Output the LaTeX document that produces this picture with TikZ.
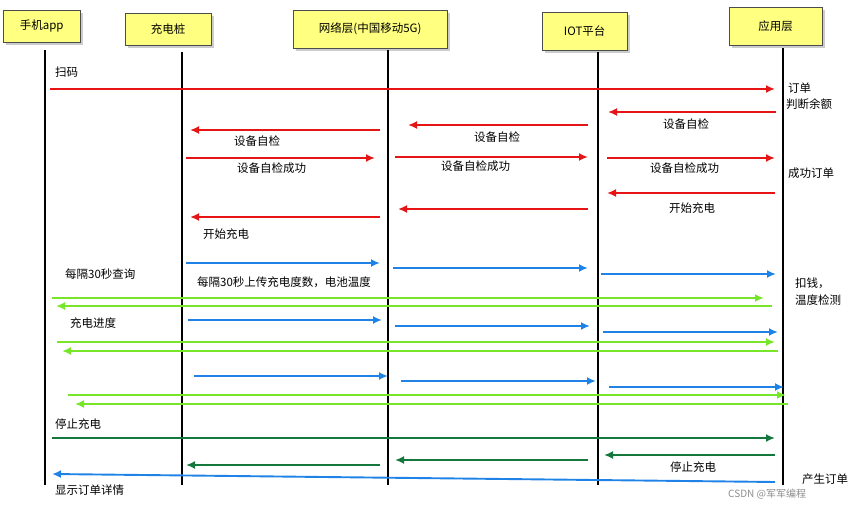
\documentclass[tikz,border=0pt]{standalone}
\usepackage{fontspec}
\setmainfont{Noto Sans CJK SC}
\usetikzlibrary{arrows.meta,shadows}
\definecolor{boxyellow}{RGB}{255,255,128}
\definecolor{msgred}{RGB}{230,20,20}
\definecolor{msgblue}{RGB}{30,130,230}
\definecolor{msggreen}{RGB}{120,230,40}
\definecolor{msgdark}{RGB}{20,120,60}
\tikzset{
  actor/.style={draw=black!70, fill=boxyellow, drop shadow={opacity=0.4}, font=\fontsize{11.5}{13}\selectfont, inner sep=4pt, anchor=north west, minimum height=32pt},
  life/.style={line width=1.3pt},
  msg/.style={line width=1.9pt, -{Latex[length=9pt,width=8pt]}},
  lbl/.style={font=\fontsize{11.5}{13}\selectfont, anchor=west, inner sep=0pt}
}
\begin{document}
\begin{tikzpicture}[x=1pt,y=-1pt]
      \useasboundingbox (0,0) rectangle (868,513);
      % participants
      \node[actor, minimum width=77pt] (app) at (3,10) {手机app};
      \node[actor, minimum width=86pt] (pile) at (125,13) {充电桩};
      \node[actor, minimum width=154pt, minimum height=38pt] (net) at (293,10) {网络层(中国移动5G)};
      \node[actor, minimum width=85pt, minimum height=38pt] (iot) at (542,12) {IOT平台};
      \node[actor, minimum width=93pt, minimum height=38pt] (srv) at (729,7) {应用层};
      \draw[life] (45,50) -- (45,485);
      \draw[life] (182,52) -- (182,485);
      \draw[life] (388,50) -- (388,485);
      \draw[life] (598,52) -- (598,485);
      \draw[life] (783,48) -- (783,485);

      % scan and self check
      \draw[msg, msgred] (50,89) -- (775,89);
      \draw[msg, msgred] (776,112) -- (608,112);
      \draw[msg, msgred] (588,125) -- (408,125);
      \draw[msg, msgred] (380,130) -- (190,130);
      \draw[msg, msgred] (186,158) -- (375,158);
      \draw[msg, msgred] (395,157) -- (588,157);
      \draw[msg, msgred] (607,158) -- (775,158);
      \draw[msg, msgred] (775,193) -- (607,193);
      \draw[msg, msgred] (588,209) -- (398,209);
      \draw[msg, msgred] (380,217) -- (190,217);

      % periodic upload
      \foreach \dx/\ya/\yb/\yc in {0/263/268/274, 2/320/326/332, 8/376/381/387}{
        \draw[msg, msgblue] (186+\dx,\ya) -- (380+\dx,\ya);
        \draw[msg, msgblue] (393+\dx,\yb) -- (588+\dx,\yb);
        \draw[msg, msgblue] (601+\dx,\yc) -- (776+\dx,\yc);
      }
      \draw[msg, msggreen] (52,298) -- (764,298);
      \draw[msg, msggreen] (772,306) -- (56,306);
      \draw[msg, msggreen] (57,342) -- (775,342);
      \draw[msg, msggreen] (778,351) -- (62,351);
      \draw[msg, msggreen] (68,395) -- (786,395);
      \draw[msg, msggreen] (788,404) -- (75,404);

      % stop
      \draw[msg, msgdark] (52,438) -- (775,438);
      \draw[msg, msgdark] (775,455) -- (604,455);
      \draw[msg, msgdark] (588,460) -- (395,460);
      \draw[msg, msgdark] (380,465) -- (186,465);
      \draw[msg, msgblue] (775,482) -- (52,474);

      % labels
      \node[lbl] at (55,72) {扫码};
      \node[lbl] at (788,88) {订单};
      \node[lbl] at (786,104) {判断余额};
      \node[lbl] at (663,124) {设备自检};
      \node[lbl] at (474,137) {设备自检};
      \node[lbl] at (234,141) {设备自检};
      \node[lbl] at (237,168) {设备自检成功};
      \node[lbl] at (441,166) {设备自检成功};
      \node[lbl] at (650,168) {设备自检成功};
      \node[lbl] at (788,173) {成功订单};
      \node[lbl] at (669,208) {开始充电};
      \node[lbl] at (203,234) {开始充电};
      \node[lbl] at (65,274) {每隔30秒查询};
      \node[lbl] at (197,282) {每隔30秒上传充电度数，电池温度};
      \node[lbl] at (795,283) {扣钱，};
      \node[lbl] at (795,300) {温度检测};
      \node[lbl] at (70,323) {充电进度};
      \node[lbl] at (55,424) {停止充电};
      \node[lbl] at (670,467) {停止充电};
      \node[lbl] at (802,479) {产生订单};
      \node[lbl] at (55,490) {显示订单详情};
      \node[lbl, text=black!45, font=\fontsize{10}{11}\selectfont] at (728,494) {CSDN @军军编程};
\end{tikzpicture}
\end{document}
